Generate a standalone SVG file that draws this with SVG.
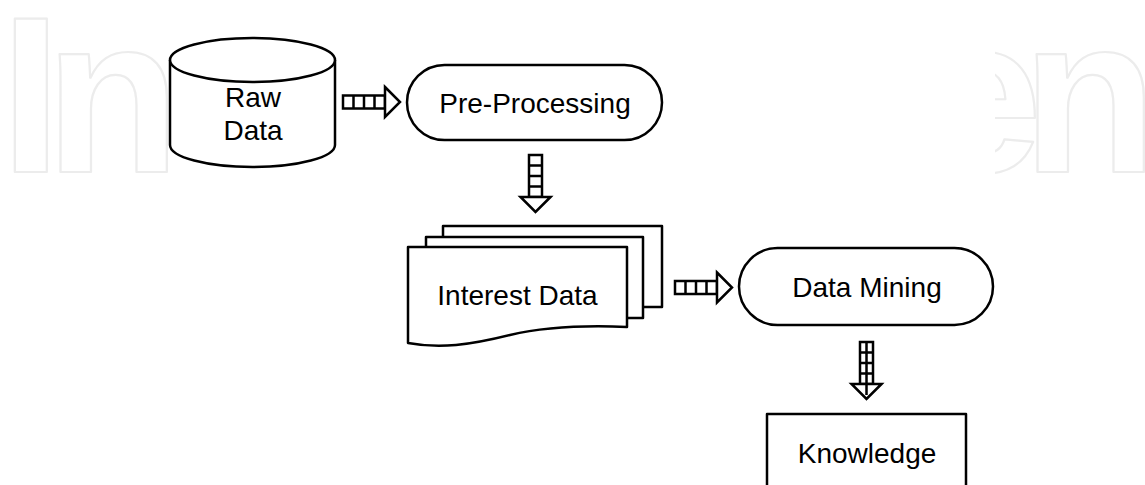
<svg xmlns="http://www.w3.org/2000/svg" xmlns:xlink="http://www.w3.org/1999/xlink" width="1145" height="485" viewBox="0 0 1145 485">
<style>
.shape{fill:#fff;stroke:#000;stroke-width:2.5;stroke-linejoin:round}
.lbl{font-family:"Liberation Sans",Arial,sans-serif;font-size:28px;fill:#000;text-anchor:middle}
.arr{fill:#fff;stroke:#000;stroke-width:2.5;stroke-linejoin:miter}
.wm{font-family:"Liberation Sans",Arial,sans-serif;font-weight:bold;font-size:222px;fill:#fff;stroke:#ececec;stroke-width:2.2;stroke-linejoin:round}
</style>
<defs>
<clipPath id="wmclip" clipPathUnits="userSpaceOnUse">
<path clip-rule="evenodd" d="M0 0H1145V485H0Z M168 38H995V485H168Z"/>
</clipPath>
<g id="harrow">
<rect class="arr" x="0" y="-6.5" width="42" height="13"/>
<path class="arr" d="M10.5 -6.5V6.5M21 -6.5V6.5M31.5 -6.5V6.5"/>
<polygon class="arr" points="42,-15 57,0 42,15"/>
</g>
</defs>
<rect width="1145" height="485" fill="#fff"/>
<g id="watermark" clip-path="url(#wmclip)">
<text class="wm" x="0 45" y="172">In</text>
<text class="wm" x="919 1022" y="172">en</text>
</g>
<g id="connectors">
<use xlink:href="#harrow" transform="translate(343,102)"/>
<use xlink:href="#harrow" transform="translate(535.5,155) rotate(90)"/>
<use xlink:href="#harrow" transform="translate(675,287.5)"/>
<g transform="translate(866.5,342) rotate(90)">
<use xlink:href="#harrow"/>
<path class="arr" d="M0 0H42M42 0H53"/>
</g>
</g>
<g id="raw-data">
<path class="shape" d="M170 60V145A82.5 22 0 0 0 335 145V60"/>
<ellipse class="shape" cx="252.5" cy="60" rx="82.5" ry="22"/>
<text class="lbl" x="253" y="107">Raw</text>
<text class="lbl" x="253" y="140">Data</text>
</g>
<g id="pre-processing">
<rect class="shape" x="407" y="65" width="255" height="75" rx="37.5"/>
<text class="lbl" x="535" y="113">Pre-Processing</text>
</g>
<g id="interest-data">
<rect class="shape" x="443" y="226" width="219" height="81"/>
<rect class="shape" x="426" y="237" width="217" height="81"/>
<path class="shape" d="M408 247H627V327C580 325 540 328 510 335C470 345 440 349 408 343Z"/>
<text class="lbl" x="517.5" y="305">Interest Data</text>
</g>
<g id="data-mining">
<rect class="shape" x="739" y="248" width="254" height="77" rx="38.5"/>
<text class="lbl" x="867" y="297">Data Mining</text>
</g>
<g id="knowledge">
<rect class="shape" x="767" y="414" width="199" height="90"/>
<text class="lbl" x="867" y="463">Knowledge</text>
</g>
</svg>
